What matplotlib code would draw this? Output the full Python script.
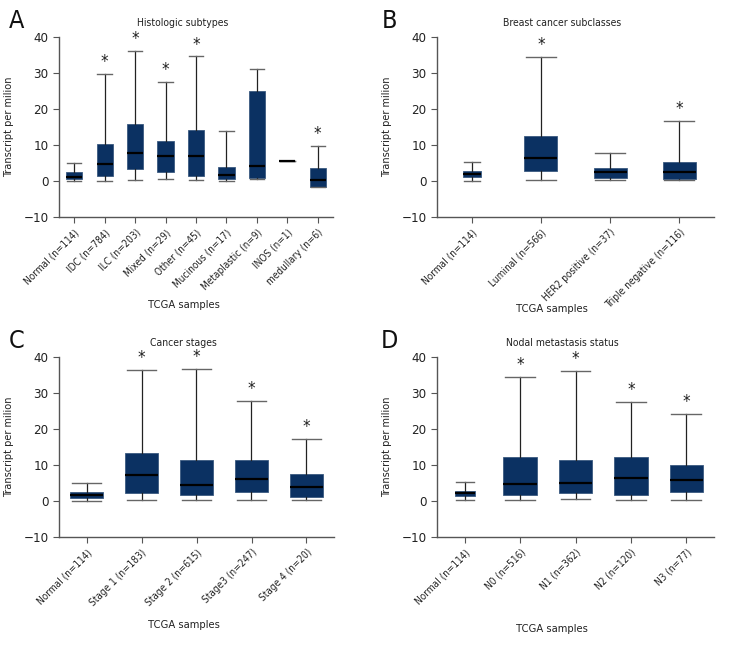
import matplotlib
matplotlib.use('Agg')
import matplotlib.pyplot as plt
from matplotlib import font_manager

# look for a narrow/condensed face, the original uses a condensed font
narrow = [f for f in font_manager.fontManager.ttflist
          if ('Narrow' in f.fname or 'Condensed' in f.fname) and f.style == 'normal' and f.weight in (400, 'normal')]
if narrow:
    narrow.sort(key=lambda f: (0 if 'Liberation' in f.fname else 1, f.fname))
    plt.rcParams['font.family'] = [narrow[0].name, 'DejaVu Sans']
    plt.rcParams['font.stretch'] = narrow[0].stretch
    cond = True
else:
    plt.rcParams['font.family'] = ['Liberation Sans', 'DejaVu Sans']
    cond = False

# Panel A - histologic subtypes
labels_a = ['Normal (n=114)', 'IDC (n=784)', 'ILC (n=203)', 'Mixed (n=29)', 'Other (n=45)',
            'Mucinous (n=17)', 'Metaplastic (n=9)', 'INOS (n=1)', 'medullary (n=6)']
low_a = [0.0, 0.0, 0.3, 0.5, 0.3, 0.0, 0.6, 5.5, -1.6]
q1_a = [0.6, 1.5, 3.4, 2.5, 1.5, 0.6, 0.8, 5.5, -1.6]
med_a = [1.25, 4.6, 7.9, 6.9, 6.9, 1.6, 4.2, 5.5, 0.2]
q3_a = [2.5, 10.4, 15.8, 11.2, 14.2, 3.8, 25.0, 5.5, 3.5]
high_a = [4.9, 29.7, 36.2, 27.4, 34.6, 13.9, 31.1, 5.5, 9.8]
star_a = [0, 1, 1, 1, 1, 0, 0, 0, 1]

# Panel B - breast cancer subclasses
labels_b = ['Normal (n=114)', 'Luminal (n=566)', 'HER2 positive (n=37)', 'Triple negative (n=116)']
low_b = [0.0, 0.4, 0.4, 0.3]
q1_b = [1.0, 2.7, 0.8, 0.6]
med_b = [2.0, 6.5, 2.5, 2.5]
q3_b = [2.7, 12.6, 3.7, 5.2]
high_b = [5.2, 34.5, 7.9, 16.6]
star_b = [0, 1, 0, 1]

# Panel C - cancer stages
labels_c = ['Normal (n=114)', 'Stage 1 (n=183)', 'Stage 2 (n=615)', 'Stage3 (n=247)', 'Stage 4 (n=20)']
low_c = [0.1, 0.2, 0.3, 0.4, 0.2]
q1_c = [0.8, 2.2, 1.8, 2.4, 1.2]
med_c = [1.8, 7.1, 4.5, 6.1, 4.0]
q3_c = [2.5, 13.3, 11.5, 11.3, 7.4]
high_c = [4.9, 36.5, 36.7, 27.8, 17.3]
star_c = [0, 1, 1, 1, 1]

# Panel D - nodal metastasis status
labels_d = ['Normal (n=114)', 'N0 (n=516)', 'N1 (n=362)', 'N2 (n=120)', 'N3 (n=77)']
low_d = [0.2, 0.2, 0.6, 0.4, 0.4]
q1_d = [1.3, 1.6, 2.1, 1.8, 2.6]
med_d = [2.1, 4.8, 5.1, 6.5, 5.9]
q3_d = [2.7, 12.3, 11.5, 12.3, 10.1]
high_d = [5.4, 34.5, 36.2, 27.6, 24.3]
star_d = [0, 1, 1, 1, 1]

navy = '#0b3162'
axis_col = '#555555'
tick_fs = 7.2 if cond else 6.6

fig = plt.figure(figsize=(7.32, 6.48), dpi=100)


def panel(rect, labels, low, q1, med, q3, high, stars, widths, title, title_xy, letter, letter_xy, xlab_xy):
    ax = fig.add_axes(rect)
    stats = []
    for i in range(len(labels)):
        stats.append({'med': med[i], 'q1': q1[i], 'q3': q3[i],
                      'whislo': low[i], 'whishi': high[i], 'fliers': [], 'label': labels[i]})
    pos = list(range(1, len(labels) + 1))
    ax.bxp(stats, positions=pos, widths=widths, capwidths=[w * 0.9 for w in widths],
           patch_artist=True, showfliers=False,
           boxprops=dict(facecolor=navy, edgecolor='#3a5a80', linewidth=0.6),
           medianprops=dict(color='black', linewidth=1.6),
           whiskerprops=dict(color='#222222', linewidth=0.9),
           capprops=dict(color='#666666', linewidth=1.0))
    for p, s, h in zip(pos, stars, high):
        if s:
            ax.text(p, h + 0.8, '*', ha='center', va='bottom', fontsize=12, color='#222222')
    ax.set_xlim(0.5, len(labels) + 0.5)
    ax.set_ylim(-10, 40)
    ax.set_yticks([-10, 0, 10, 20, 30, 40])
    ax.set_yticklabels(['\u221210', '0', '10', '20', '30', '40'])
    ax.set_xticks(pos)
    ax.set_xticklabels(labels, rotation=45, ha='right', rotation_mode='anchor', fontsize=tick_fs)
    ax.tick_params(axis='y', labelsize=9.5, colors='#222222', color=axis_col, length=4)
    ax.tick_params(axis='x', color=axis_col, length=4, labelcolor='#222222')
    for sp in ['top', 'right']:
        ax.spines[sp].set_visible(False)
    for sp in ['left', 'bottom']:
        ax.spines[sp].set_color(axis_col)
        ax.spines[sp].set_linewidth(1.0)
    ax.set_ylabel('Transcript per milion', fontsize=7.8, color='#222222', labelpad=7)
    fig.text(title_xy[0] / 732, 1 - title_xy[1] / 648, title, ha='center', va='center', fontsize=7.5, color='#222222')
    fig.text(letter_xy[0] / 732, 1 - letter_xy[1] / 648, letter, ha='center', va='center', fontsize=18, color='#111111')
    fig.text(xlab_xy[0] / 732, 1 - xlab_xy[1] / 648, 'TCGA samples', ha='center', va='center', fontsize=8, color='#222222')
    return ax


panel([59 / 732, 1 - 217 / 648, 274 / 732, 180 / 648], labels_a, low_a, q1_a, med_a, q3_a, high_a, star_a,
      [0.53] * 9, 'Histologic subtypes', (183, 23), 'A', (17, 21), (184, 305))
panel([437 / 732, 1 - 217 / 648, 277 / 732, 180 / 648], labels_b, low_b, q1_b, med_b, q3_b, high_b, star_b,
      [0.26, 0.48, 0.48, 0.48], 'Breast cancer subclasses', (562, 23), 'B', (389, 21), (552, 309))
panel([59 / 732, 1 - 537 / 648, 275 / 732, 180 / 648], labels_c, low_c, q1_c, med_c, q3_c, high_c, star_c,
      [0.6] * 5, 'Cancer stages', (183, 343), 'C', (17, 341), (184, 625))
panel([437 / 732, 1 - 537 / 648, 277 / 732, 180 / 648], labels_d, low_d, q1_d, med_d, q3_d, high_d, star_d,
      [0.36, 0.6, 0.6, 0.6, 0.6], 'Nodal metastasis status', (562, 343), 'D', (389, 341), (552, 629))

fig.savefig('out.png', dpi=100)
